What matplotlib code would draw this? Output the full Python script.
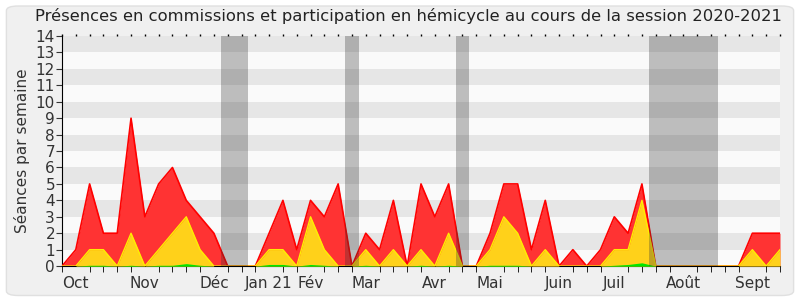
import numpy as np
import matplotlib
matplotlib.use("Agg")
import matplotlib.pyplot as plt
from matplotlib.patches import FancyBboxPatch

# weekly values, week 0 = last week of Sept 2020
presences = [0, 1, 5, 2, 2, 9, 3, 5, 6, 4, 3, 2, 0, 0,
             0, 2, 4, 1, 4, 3, 5, 0, 2, 1, 4, 0, 5, 3, 5, 0,
             0, 2, 5, 5, 1, 4, 0, 1, 0, 1, 3, 2, 5, 0,
             0, 0, 0, 0, 0, 0, 2, 2, 2]
hemicycle = [0, 0, 1, 1, 0, 2, 0, 1, 2, 3, 1, 0, 0, 0,
             0, 1, 1, 0, 3, 1, 0, 0, 1, 0, 1, 0, 1, 0, 2, 0,
             0, 1, 3, 2, 0, 1, 0, 0, 0, 0, 1, 1, 4, 0,
             0, 0, 0, 0, 0, 0, 1, 0, 1]
interventions = [0, 0, 0.05, 0.05, 0, 0.05, 0, 0.05, 0.05, 0.15, 0.05, 0, 0, 0,
                 0, 0.1, 0.1, 0, 0.1, 0.05, 0, 0, 0.05, 0, 0, 0, 0.05, 0, 0.05, 0,
                 0, 0.05, 0.05, 0.05, 0, 0, 0, 0, 0, 0, 0.05, 0.1, 0.2, 0,
                 0, 0, 0, 0, 0, 0, 0, 0, 0]
month_weeks = [1, 6, 11, 15, 18, 22, 27, 31, 36, 40, 45, 50]
month_labels = ["Oct", "Nov", "Déc", "Jan 21", "Fév", "Mar", "Avr",
                "Mai", "Juin", "Juil", "Août", "Sept"]
vacances = [(11.5, 13.5), (20.5, 21.5), (28.5, 29.5), (42.5, 47.5)]

weeks = np.arange(len(presences))

fig = plt.figure(figsize=(8, 3), dpi=100, facecolor="white")
fig.patches.append(FancyBboxPatch((0.008, 0.015), 0.984, 0.965,
                                  boxstyle="round,pad=0,rounding_size=0.015",
                                  transform=fig.transFigure, facecolor="#f0f0f0",
                                  edgecolor="#e0e0e0", linewidth=1, zorder=-10))
ax = fig.add_axes([0.0775, 0.113, 0.8975, 0.767])
ax.set_facecolor("#fafafa")

for k in range(1, 14, 2):
    ax.axhspan(k, k + 1, color="#e6e6e6", lw=0, zorder=0)

ax.fill_between(weeks, presences, color="#ff3333", lw=0, zorder=2)
ax.plot(weeks, presences, color="#ff0000", lw=1.2, zorder=3)
ax.fill_between(weeks, hemicycle, color="#ffd11a", lw=0, zorder=4)
ax.plot(weeks, hemicycle, color="#ffee00", lw=1, zorder=5)
ax.fill_between(weeks, interventions, color="#00e600", lw=0, zorder=6)

for a, b in vacances:
    ax.axvspan(a, b, color="#323232", alpha=0.3, lw=0, zorder=7)

ax.set_xlim(0, 52)
ax.set_ylim(0, 14)
ax.set_yticks(range(15))
ax.tick_params(axis="y", labelsize=11, length=4, pad=1, colors="#333333")
ax.set_xticks(weeks, minor=True)
ax.set_xticks(month_weeks)
ax.set_xticklabels(month_labels)
ax.tick_params(axis="x", which="major", length=0, labelsize=11, pad=7, colors="#333333")
ax.tick_params(axis="x", which="minor", length=4, color="black")
for s in ["top", "right"]:
    ax.spines[s].set_visible(False)
ax.spines["left"].set_color("black")
ax.spines["bottom"].set_color("black")

# small dots along the top edge
top = ax.secondary_xaxis("top")
top.set_xticks(weeks)
top.tick_params(length=1.5, width=1, color="black", labeltop=False)
top.spines["top"].set_visible(False)

ax.set_ylabel("Séances par semaine", fontsize=11, color="#333333", labelpad=4)
fig.suptitle("Présences en commissions et participation en hémicycle au cours de la session 2020-2021",
             fontsize=11.8, color="#222222", y=0.975, x=0.511)

fig.savefig("out.png", dpi=100, facecolor="white")
